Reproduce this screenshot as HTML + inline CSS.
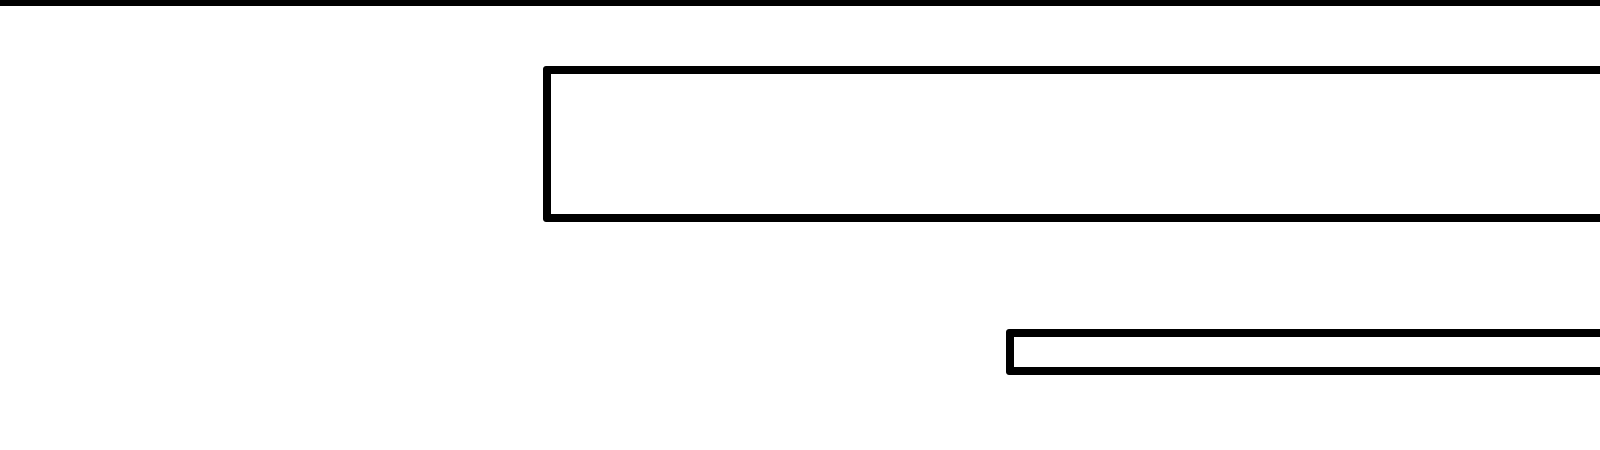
<!DOCTYPE html>
<html><head><style>
html,body{margin:0;padding:0;background:#fff;width:1600px;height:450px;overflow:hidden;position:relative}
.bar{position:absolute;left:0;top:0;width:1600px;height:6px;background:#000}
.b{position:absolute;border:8px solid #000;border-radius:3px;box-sizing:border-box}
</style></head><body>
<div class="bar"></div>
<div class="b" style="left:543px;top:66px;width:1100px;height:156px"></div>
<div class="b" style="left:1006px;top:329px;width:700px;height:46px"></div>
</body></html>
